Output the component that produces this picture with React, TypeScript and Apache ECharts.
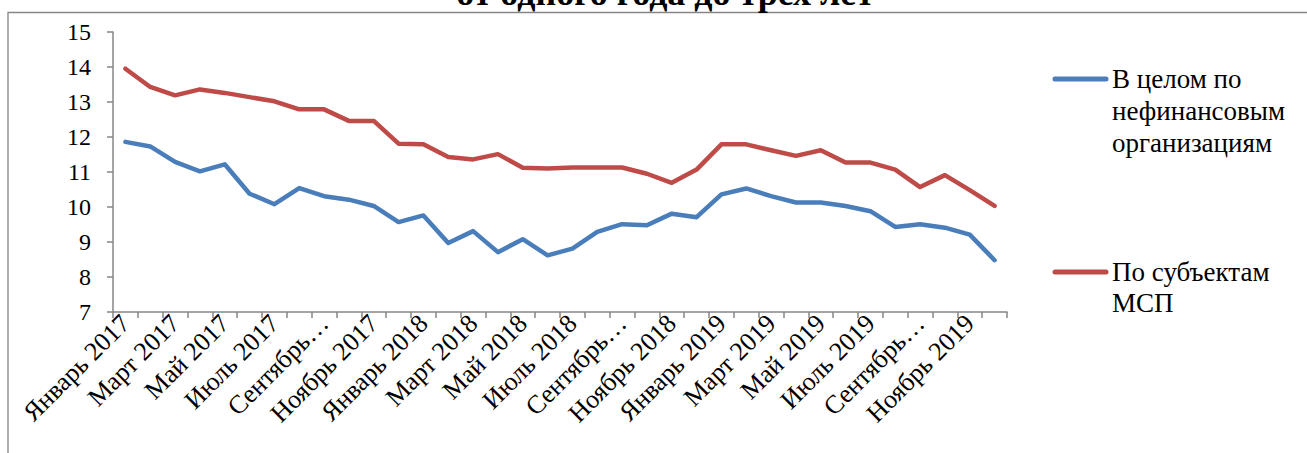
import React, { useEffect, useRef } from "react";
import * as echarts from "echarts";

const monthNames = ["Январь", "Февраль", "Март", "Апрель", "Май", "Июнь", "Июль", "Август", "Сентябрь", "Октябрь", "Ноябрь", "Декабрь"];
const years = [2017, 2018, 2019];
const categories: string[] = years.flatMap((y) => monthNames.map((m) => `${m} ${y}`));

const seriesNames = ["В целом по нефинансовым организациям", "По субъектам МСП"];
const legendTexts = ["В целом по\nнефинансовым\nорганизациям", "По субъектам\nМСП"];

const totalRates = [
  11.86, 11.73, 11.29, 11.02, 11.22, 10.38, 10.08, 10.54, 10.31, 10.21, 10.03, 9.57,
  9.76, 8.97, 9.31, 8.71, 9.08, 8.62, 8.81, 9.29, 9.51, 9.48, 9.81, 9.71,
  10.36, 10.53, 10.31, 10.13, 10.13, 10.03, 9.88, 9.43, 9.51, 9.41, 9.21, 8.48,
];
const smeRates = [
  13.95, 13.43, 13.19, 13.36, 13.26, 13.14, 13.02, 12.79, 12.79, 12.46, 12.46, 11.81,
  11.79, 11.43, 11.36, 11.51, 11.12, 11.10, 11.13, 11.13, 11.13, 10.95, 10.69, 11.07,
  11.79, 11.79, 11.62, 11.46, 11.62, 11.27, 11.27, 11.07, 10.57, 10.91, 10.48, 10.03,
];

const titleText = "от одного года до трех лет";
const colors = ["#4A7EBB", "#BE4B48"];
const FONT = "Liberation Serif";
const AXIS_COLOR = "#868686";

export default function App() {
  const ref = useRef<HTMLDivElement>(null);
  useEffect(() => {
    if (!ref.current) return;
    const chart = echarts.init(ref.current, null, { renderer: "svg" });
    chart.setOption({
      animation: false,
      backgroundColor: "#ffffff",
      textStyle: { fontFamily: FONT },
      grid: { left: 113, right: 300, top: 32, bottom: 141, containLabel: false },
      xAxis: {
        type: "category",
        data: categories,
        boundaryGap: true,
        axisLine: { show: true, lineStyle: { color: AXIS_COLOR, width: 1.5 } },
        axisTick: { show: true, interval: 0, length: 6, alignWithLabel: false, lineStyle: { color: AXIS_COLOR, width: 1.5 } },
        axisLabel: {
          interval: 1,
          rotate: 45,
          margin: 7,
          color: "#000",
          fontFamily: FONT,
          fontSize: 26,
          formatter: (v: string) => (v.startsWith("Сентябрь") ? "Сентябрь…" : v),
        },
        splitLine: { show: false },
      },
      yAxis: {
        type: "value",
        min: 7,
        max: 15,
        interval: 1,
        axisLine: { show: true, lineStyle: { color: AXIS_COLOR, width: 1.5 } },
        axisTick: { show: true, length: 6, lineStyle: { color: AXIS_COLOR, width: 1.5 } },
        axisLabel: { color: "#000", fontFamily: FONT, fontSize: 24, margin: 22 },
        splitLine: { show: false },
      },
      series: [
        {
          name: seriesNames[0],
          type: "line",
          data: totalRates,
          symbol: "none",
          lineStyle: { color: colors[0], width: 4.5, cap: "round", join: "round" },
          itemStyle: { color: colors[0] },
        },
        {
          name: seriesNames[1],
          type: "line",
          data: smeRates,
          symbol: "none",
          lineStyle: { color: colors[1], width: 4.5, cap: "round", join: "round" },
          itemStyle: { color: colors[1] },
        },
      ],
      graphic: [
        {
          type: "rect",
          shape: { x: 8, y: 12.5, width: 1400, height: 500 },
          style: { fill: "none", stroke: AXIS_COLOR, lineWidth: 1.3 },
          silent: true,
        },
        {
          type: "text",
          x: 665,
          y: -7,
          style: {
            text: titleText,
            fontFamily: FONT,
            fontSize: 36,
            fontWeight: "bold",
            fill: "#000",
            align: "center",
            verticalAlign: "middle",
          },
        },
        {
          type: "line",
          shape: { x1: 1055, y1: 79, x2: 1106, y2: 79 },
          style: { stroke: colors[0], lineWidth: 5, lineCap: "round" },
        },
        {
          type: "text",
          x: 1112,
          y: 63,
          style: {
            text: legendTexts[0],
            fontFamily: FONT,
            fontSize: 27,
            lineHeight: 32,
            fill: "#000",
            align: "left",
            verticalAlign: "top",
          },
        },
        {
          type: "line",
          shape: { x1: 1055, y1: 272, x2: 1106, y2: 272 },
          style: { stroke: colors[1], lineWidth: 5, lineCap: "round" },
        },
        {
          type: "text",
          x: 1112,
          y: 256,
          style: {
            text: legendTexts[1],
            fontFamily: FONT,
            fontSize: 27,
            lineHeight: 31,
            fill: "#000",
            align: "left",
            verticalAlign: "top",
          },
        },
      ],
    });
    return () => chart.dispose();
  }, []);
  return (
    <div
      ref={ref}
      style={{ position: "absolute", left: 0, top: 0, width: 1307, height: 453 }}
    />
  );
}
